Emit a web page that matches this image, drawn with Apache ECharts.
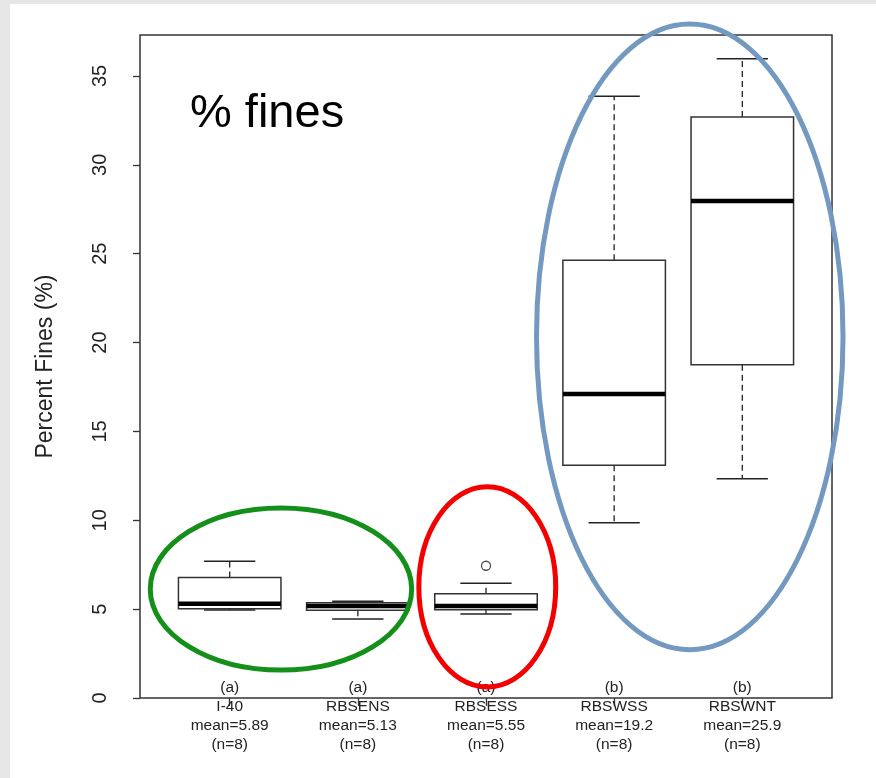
<!DOCTYPE html>
<html><head><meta charset="utf-8">
<script src="https://cdn.jsdelivr.net/npm/echarts@6/dist/echarts.min.js"></script>
<style>
html,body{margin:0;padding:0;background:#e6e6e6;width:876px;height:778px;overflow:hidden}
#panel{position:absolute;left:10px;top:4px;width:866px;height:774px;background:#fff}
#chart{position:absolute;left:0;top:0;width:876px;height:778px}
</style></head><body>
<div id="panel"></div><div id="chart"></div>
<script>
// ---- data ----
const categories = ['I-40', 'RBSENS', 'RBSESS', 'RBSWSS', 'RBSWNT'];
const groupLetters = ['(a)', '(a)', '(a)', '(b)', '(b)'];
const means = ['5.89', '5.13', '5.55', '19.2', '25.9'];
const counts = [8, 8, 8, 8, 8];
const whiskerLow = [4.95, 4.45, 4.72, 9.86, 12.34];
const q1 = [5.02, 4.94, 4.96, 13.1, 18.75];
const medians = [5.3, 5.17, 5.18, 17.1, 27.96];
const q3 = [6.78, 5.36, 5.86, 24.63, 32.68];
const whiskerHigh = [7.7, 5.44, 6.46, 33.86, 35.96];
const outlierGroup = [3];
const outlierValue = [7.44];
const yTicks = [0, 5, 10, 15, 20, 25, 30, 35];
// annotation ellipses (data units): centre x, centre y, radius x, radius y
const ellipseCx = [1.40, 3.01, 4.59];
const ellipseCy = [6.13, 6.25, 20.32];
const ellipseRx = [1.02, 0.534, 1.196];
const ellipseRy = [4.56, 5.63, 17.6];
const ellipseColors = ['#14901a', '#f40000', '#7399c1'];

const positions = categories.map((c, i) => i + 1);
const boxData = positions.map((p, i) => [p, whiskerLow[i], q1[i], medians[i], q3[i], whiskerHigh[i]]);
const outlierData = outlierGroup.map((g, i) => [g, outlierValue[i]]);
const ellipseData = ellipseCx.map((c, i) => [c, ellipseCy[i], ellipseRx[i], ellipseRy[i]]);

const FONT = 'Liberation Sans, Arial, sans-serif';
const chart = echarts.init(document.getElementById('chart'), null, {renderer: 'canvas'});

function renderBox(params, api) {
  const x = api.value(0);
  const lo = api.value(1), a = api.value(2), m = api.value(3), b = api.value(4), hi = api.value(5);
  const half = 0.4, cap = 0.2;
  const cx = api.coord([x, m])[0];
  const yLo = api.coord([x, lo])[1], yA = api.coord([x, a])[1], yM = api.coord([x, m])[1];
  const yB = api.coord([x, b])[1], yHi = api.coord([x, hi])[1];
  const xl = api.coord([x - half, m])[0], xr = api.coord([x + half, m])[0];
  const cl = api.coord([x - cap, m])[0], cr = api.coord([x + cap, m])[0];
  const dash = {stroke: '#222', lineWidth: 1.3, lineDash: [6, 4]};
  const solid = {stroke: '#222', lineWidth: 1.5};
  return {
    type: 'group',
    children: [
      {type: 'line', shape: {x1: cx, y1: yB, x2: cx, y2: yHi}, style: dash},
      {type: 'line', shape: {x1: cx, y1: yA, x2: cx, y2: yLo}, style: dash},
      {type: 'line', shape: {x1: cl, y1: yHi, x2: cr, y2: yHi}, style: solid},
      {type: 'line', shape: {x1: cl, y1: yLo, x2: cr, y2: yLo}, style: solid},
      {type: 'rect', shape: {x: xl, y: yB, width: xr - xl, height: yA - yB},
        style: {fill: '#fff', stroke: '#333', lineWidth: 1.5}},
      {type: 'line', shape: {x1: xl, y1: yM, x2: xr, y2: yM}, style: {stroke: '#000', lineWidth: 4.5}}
    ]
  };
}

function renderEllipse(params, api) {
  const c = api.coord([api.value(0), api.value(1)]);
  const s = api.size([api.value(2), api.value(3)]);
  return {
    type: 'ellipse',
    shape: {cx: c[0], cy: c[1], rx: s[0], ry: s[1]},
    style: {fill: 'none', stroke: ellipseColors[params.dataIndex], lineWidth: 5}
  };
}

chart.setOption({
  backgroundColor: 'transparent',
  animation: false,
  title: {
    text: '% fines', left: 190, top: 91, padding: 0,
    textStyle: {fontSize: 47, fontWeight: 'normal', color: '#000', fontFamily: FONT}
  },
  grid: {left: 140, top: 35, right: 44, bottom: 80, show: true, borderColor: '#333', borderWidth: 1.5, backgroundColor: 'transparent'},
  xAxis: {
    type: 'value', min: 0.3, max: 5.7,
    axisLine: {show: false, onZero: false},
    splitLine: {show: false},
    axisTick: {show: true, customValues: positions, length: 8, lineStyle: {color: '#333', width: 1.3}},
    axisLabel: {
      customValues: positions, margin: -19.5, fontSize: 15.5, lineHeight: 19,
      color: '#222', fontFamily: FONT,
      formatter: function (v) {
        const i = Math.round(v) - 1;
        return groupLetters[i] + '\n' + categories[i] + '\nmean=' + means[i] + '\n(n=' + counts[i] + ')';
      }
    }
  },
  yAxis: {
    type: 'value', min: 0, max: 37.3, interval: 5,
    axisLine: {show: false, onZero: false},
    splitLine: {show: false},
    axisTick: {show: true, customValues: yTicks, length: 7, lineStyle: {color: '#333', width: 1.3}},
    axisLabel: {customValues: yTicks, rotate: 90, margin: 30, fontSize: 20, color: '#222', fontFamily: FONT},
    name: 'Percent Fines (%)', nameLocation: 'middle', nameGap: 83,
    nameTextStyle: {fontSize: 23, color: '#222', fontFamily: FONT}
  },
  series: [
    {type: 'custom', name: 'boxes', renderItem: renderBox, data: boxData, clip: false, z: 2,
      encode: {x: 0, y: [1, 2, 3, 4, 5]}},
    {type: 'scatter', name: 'outliers', data: outlierData, symbol: 'circle', symbolSize: 9, z: 3,
      itemStyle: {color: '#fff', borderColor: '#222', borderWidth: 1.3}},
    {type: 'custom', name: 'ellipses', renderItem: renderEllipse, data: ellipseData, clip: false, z: 10,
      encode: {x: 0, y: 1}}
  ]
});
</script>
</body></html>
